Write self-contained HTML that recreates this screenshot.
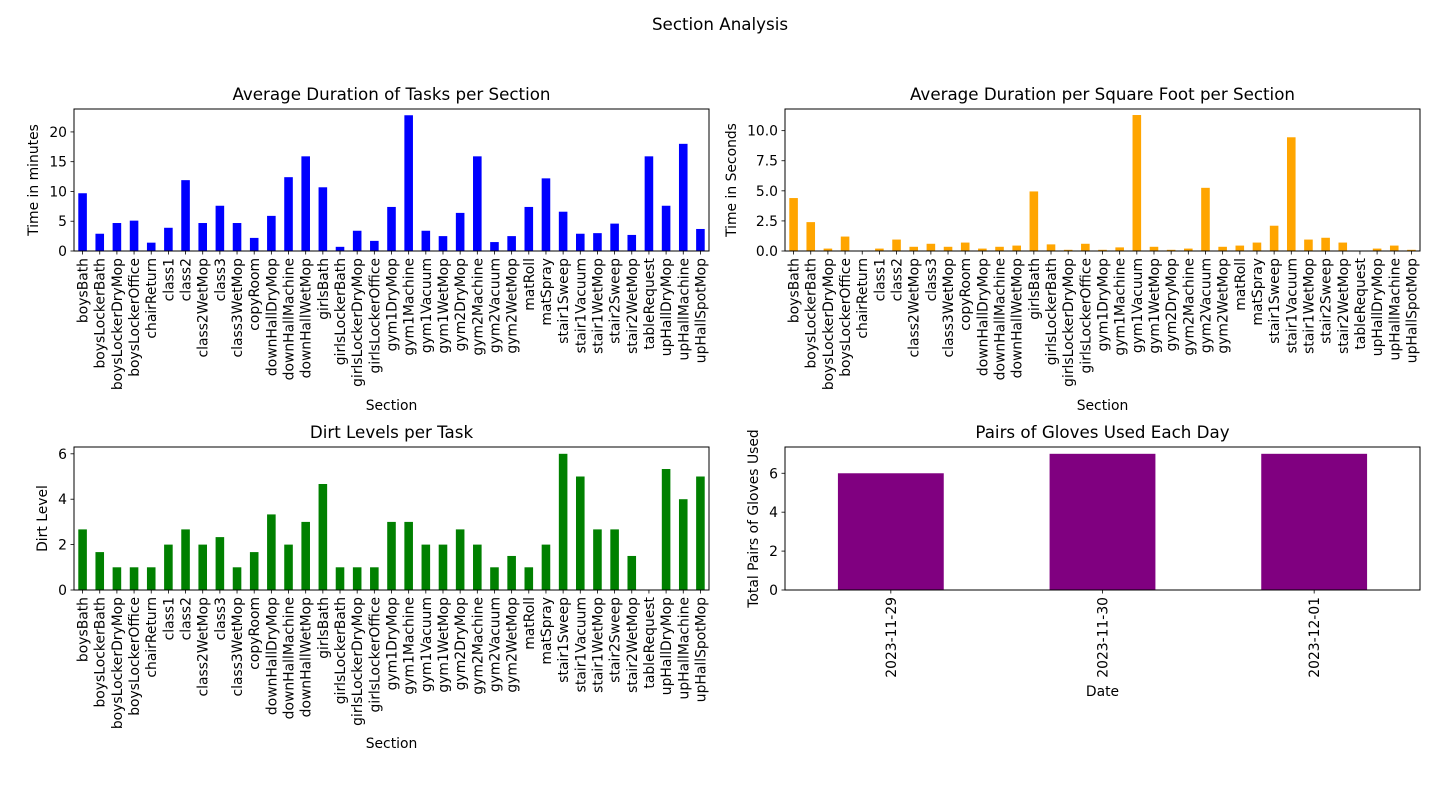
<!DOCTYPE html>
<html><head><meta charset="utf-8"><style>
html,body{margin:0;padding:0;background:#fff;}
svg{display:block;font-family:"DejaVu Sans","Liberation Sans",sans-serif;}
</style></head><body>
<svg id="fig" width="1440" height="787" viewBox="0 0 1440 787" xmlns="http://www.w3.org/2000/svg">
<rect width="1440" height="787" fill="#fff"/>
<text x="720" y="30" font-size="16.7" text-anchor="middle">Section Analysis</text>
</svg>
<script>
const sections = ["boysBath","boysLockerBath","boysLockerDryMop","boysLockerOffice","chairReturn","class1","class2","class2WetMop","class3","class3WetMop","copyRoom","downHallDryMop","downHallMachine","downHallWetMop","girlsBath","girlsLockerBath","girlsLockerDryMop","girlsLockerOffice","gym1DryMop","gym1Machine","gym1Vacuum","gym1WetMop","gym2DryMop","gym2Machine","gym2Vacuum","gym2WetMop","matRoll","matSpray","stair1Sweep","stair1Vacuum","stair1WetMop","stair2Sweep","stair2WetMop","tableRequest","upHallDryMop","upHallMachine","upHallSpotMop"];
const durationMinutes = [9.7,2.9,4.7,5.1,1.4,3.9,11.9,4.7,7.6,4.7,2.2,5.9,12.4,15.9,10.7,0.7,3.4,1.7,7.4,22.8,3.4,2.5,6.4,15.9,1.5,2.5,7.4,12.2,6.6,2.9,3.0,4.6,2.7,15.9,7.6,18.0,3.7];
const durationPerSqFt = [4.4,2.4,0.2,1.2,0,0.2,0.95,0.35,0.6,0.35,0.7,0.2,0.35,0.45,4.95,0.55,0.1,0.6,0.1,0.3,11.3,0.35,0.1,0.2,5.25,0.35,0.45,0.7,2.1,9.45,0.95,1.1,0.7,0,0.2,0.45,0.1];
const dirtLevels = [2.67,1.67,1,1,1,2,2.67,2,2.33,1,1.67,3.33,2,3,4.67,1,1,1,3,3,2,2,2.67,2,1,1.5,1,2,6,5,2.67,2.67,1.5,0,5.33,4,5];
const gloveDates = ["2023-11-29","2023-11-30","2023-12-01"];
const glovePairs = [6,7,7];
const ticksMinutes = [0,5,10,15,20];
const ticksSeconds = ["0.0","2.5","5.0","7.5","10.0"];
const ticksDirt = [0,2,4,6];
const ticksGloves = [0,2,4,6];

const NS="http://www.w3.org/2000/svg";
const svg=document.getElementById('fig');
function mk(tag,attrs,parent){const e=document.createElementNS(NS,tag);for(const k in attrs)e.setAttribute(k,attrs[k]);(parent||svg).appendChild(e);return e;}

function drawPanel(o){
  const g=mk('g',{});
  
  
  const L=o.x0,R=o.x1,T=o.y0,B=o.y1,n=o.cats.length;
  const xs=i=>L+(i+0.5)*(R-L)/n;
  const ys=v=>B-v/o.ymax*(B-T);
  const bw=0.5*(R-L)/n;
  o.vals.forEach((v,i)=>{
    const r=mk('rect',{x:xs(i)-bw/2,y:ys(v),width:bw,height:B-ys(v),fill:o.color},g);
    
    
  });
  const fr=mk('rect',{x:L,y:T,width:R-L,height:B-T,fill:'none',stroke:'#000','stroke-width':1},g);
  
  
  o.cats.forEach((c,i)=>{
    const x=xs(i);
    mk('line',{x1:x,y1:B,x2:x,y2:B+3.5,stroke:'#000','stroke-width':0.8},g);
    const t=mk('text',{x:0,y:0,'font-size':13.9,'text-anchor':'end',transform:`translate(${x+5},${B+7}) rotate(-90)`},g);
    t.textContent=c;
    
    
  });
  o.ticks.forEach(tv=>{
    const y=ys(parseFloat(tv));
    mk('line',{x1:L-3.5,y1:y,x2:L,y2:y,stroke:'#000','stroke-width':0.8},g);
    const t=mk('text',{x:L-7,y:y+5,'font-size':13.9,'text-anchor':'end'},g);
    t.textContent=tv;
    
    
  });
  const ti=mk('text',{x:(L+R)/2,y:T-9,'font-size':16.7,'text-anchor':'middle'},g);
  ti.textContent=o.title;
  
  
  const xl=mk('text',{x:(L+R)/2,y:o.xlabelY,'font-size':13.9,'text-anchor':'middle'},g);
  xl.textContent=o.xlabel;
  
  
  const yl=mk('text',{x:0,y:0,'font-size':13.9,'text-anchor':'middle',transform:`translate(${o.ylabelX},${(T+B)/2}) rotate(-90)`},g);
  yl.textContent=o.ylabel;
  
  
}

drawPanel({name:'duration-chart',x0:74,x1:709,y0:109,y1:251,cats:sections,vals:durationMinutes,ymax:23.85,color:'#0000ff',ticks:ticksMinutes,title:'Average Duration of Tasks per Section',xlabel:'Section',xlabelY:410,ylabel:'Time in minutes',ylabelX:38});
drawPanel({name:'duration-per-sqft-chart',x0:785,x1:1420,y0:109,y1:251,cats:sections,vals:durationPerSqFt,ymax:11.8,color:'#ffa500',ticks:ticksSeconds,title:'Average Duration per Square Foot per Section',xlabel:'Section',xlabelY:410,ylabel:'Time in Seconds',ylabelX:736});
drawPanel({name:'dirt-levels-chart',x0:74,x1:709,y0:447,y1:590,cats:sections,vals:dirtLevels,ymax:6.3,color:'#008000',ticks:ticksDirt,title:'Dirt Levels per Task',xlabel:'Section',xlabelY:748,ylabel:'Dirt Level',ylabelX:47});
drawPanel({name:'gloves-chart',x0:785,x1:1420,y0:447,y1:590,cats:gloveDates,vals:glovePairs,ymax:7.35,color:'#800080',ticks:ticksGloves,title:'Pairs of Gloves Used Each Day',xlabel:'Date',xlabelY:696,ylabel:'Total Pairs of Gloves Used',ylabelX:758});
</script>
</body></html>
